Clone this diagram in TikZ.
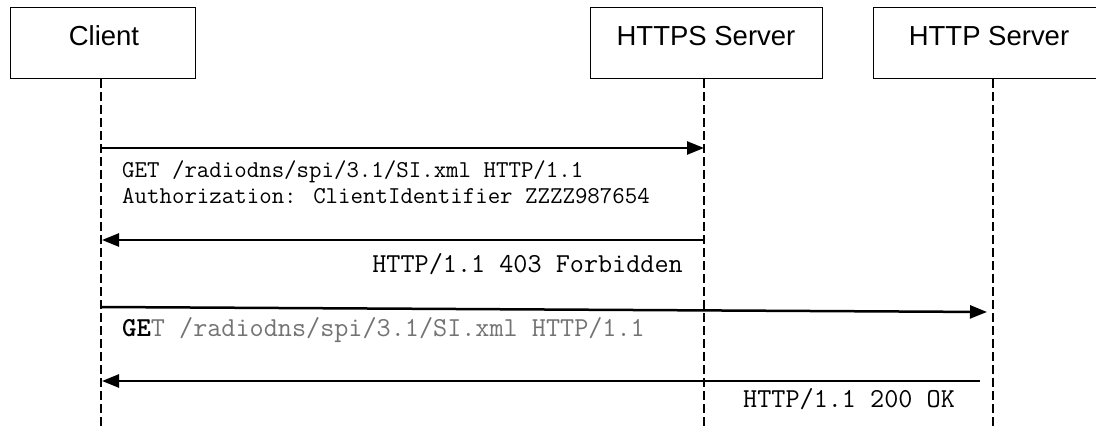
\documentclass[tikz,border=0pt]{standalone}
\usepackage{fontspec}
\setmainfont{Liberation Sans}
\usetikzlibrary{arrows.meta}
\begin{document}
\begin{tikzpicture}[x=1pt,y=-1pt,
  actorbox/.style={draw=black,line width=1pt,inner sep=0pt,minimum width=#1,minimum height=71pt},
  actorlabel/.style={inner sep=0pt,font=\fontsize{27.5}{32}\selectfont},
  lifeline/.style={line width=2.4pt,dash pattern=on 9pt off 4pt},
  msg/.style={line width=2.5pt,-{Triangle[length=17pt,width=13pt]}},
  msgtxt/.style={inner sep=0pt,anchor=base west,font=\ttfamily\fontsize{24.2}{28}\selectfont},
  msgtxtb/.style={inner sep=0pt,font=\ttfamily\fontsize{27.4}{31}\selectfont}
]
\useasboundingbox (0,0) rectangle (1096,427);
\clip (0,0) rectangle (1096,427);
% actor boxes
\node[actorbox=185pt] (cbox) at (102.5,43.5) {};
\node[actorbox=232pt] (sbox) at (706,43.5) {};
\node[actorbox=240pt] (hbox) at (993,43.5) {};
\node[actorlabel] (clbl) at (104,36) {Client};
\node[actorlabel] (slbl) at (706,36) {HTTPS Server};
\node[actorlabel] (hlbl) at (989,36) {HTTP Server};
% lifelines
\coordinate (ctop) at (101,79.5);
\coordinate (cbot) at (101,427);
\coordinate (stop) at (704,79.5);
\coordinate (sbot) at (704,427);
\coordinate (htop) at (993,79.5);
\coordinate (hbot) at (993,427);
\draw[lifeline] (ctop) -- (cbot);
\draw[lifeline] (stop) -- (sbot);
\draw[lifeline] (htop) -- (hbot);
% message points
\coordinate (c1) at (101,148);
\coordinate (s1) at (704,148);
\coordinate (s2) at (704,240);
\coordinate (c2) at (102,240);
\coordinate (c3) at (101,307);
\coordinate (h3) at (987,312);
\coordinate (h4) at (980,381);
\coordinate (c4) at (102,381);
\draw[msg] (c1) -- (s1);
\draw[msg] (s2) -- (c2);
\draw[msg] (c3) -- (h3);
\draw[msg] (h4) -- (c4);
% texts
\node[msgtxt] (t1a) at (122,178) {GET /radiodns/spi/3.1/SI.xml HTTP/1.1};
\node[msgtxt] (t1b) at (122,204) {Authorization: ClientIdentifier ZZZZ987654};
\node[msgtxtb,anchor=base east] (t2) at (683,273) {HTTP/1.1 403 Forbidden};
\node[msgtxtb,anchor=base west] (t3) at (122,337) {{\bfseries GE}\textcolor{black!55}{T /radiodns/spi/3.1/SI.xml HTTP/1.1}};
\node[msgtxtb,anchor=base west] (t4) at (743,408) {HTTP/1.1 200 OK};
\end{tikzpicture}
\end{document}
